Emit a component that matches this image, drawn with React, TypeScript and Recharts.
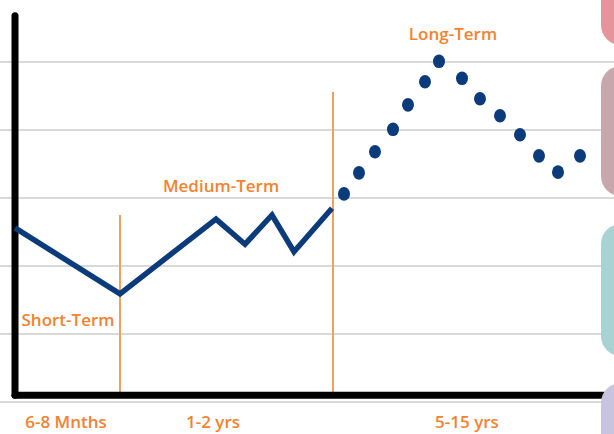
import { ComposedChart, Line, XAxis, YAxis, ReferenceLine, ReferenceDot } from 'recharts';

// x is elapsed time in chart units, y is relative level (gridlines sit on whole numbers)
const shortMediumX = [1.5, 12.0, 21.6, 24.5, 27.2, 29.4, 33.2];
const shortMediumY = [2.56, 1.59, 2.69, 2.32, 2.75, 2.21, 2.85];

const longX = [34.4, 35.9, 37.5, 39.3, 40.8, 42.5, 43.9, 46.2, 48.0, 50.0, 52.0, 53.9, 55.8, 58.0];
const longY = [3.06, 3.37, 3.68, 4.01, 4.37, 4.71, 5.01, 4.76, 4.46, 4.21, 3.93, 3.62, 3.38, 3.62];

const periodTicks = [6.6, 21.3, 46.7];
const periodLabels = ['6-8 Mnths', '1-2 yrs', '5-15 yrs'];

const phaseNames = ['Short-Term', 'Medium-Term', 'Long-Term'];
const phaseLabelX = [6.8, 22.1, 45.3];
const phaseLabelY = [1.21, 3.18, 5.41];

const dividerX = [12.0, 33.3];
const dividerTop = [2.75, 4.56];

const gridTicks = [0, 1, 2, 3, 4, 5];

const NAVY = '#0b3b7a';
const ORANGE = '#f2822f';
const FONT = '"Comic Sans MS", "Open Sans", sans-serif';

const solidData = shortMediumX.map((x, i) => ({ x, y: shortMediumY[i] }));
const dotData = longX.map((x, i) => ({ x, y: longY[i] }));

const EllipseDot = (props: any) => {
  const { cx, cy } = props;
  if (cx == null || cy == null) return null;
  return <ellipse key={`d-${cx}`} cx={cx} cy={cy} rx={6} ry={6.8} fill={NAVY} />;
};

const PeriodTick = (props: any) => {
  const { x, payload } = props;
  const idx = periodTicks.indexOf(payload.value);
  return (
    <text x={x} y={421} textAnchor="middle" dominantBaseline="central" fill={ORANGE} fontSize={17} fontWeight={600} fontFamily={FONT}>
      {periodLabels[idx]}
    </text>
  );
};

const sideBlocks = [
  { top: -25, height: 70, color: '#e4949a' },
  { top: 66, height: 130, color: '#c7a7ab' },
  { top: 224, height: 132, color: '#a8d3d2' },
  { top: 383, height: 80, color: '#c8c4df' },
];

export default function App() {
  const axisBase = 0.1;
  return (
    <div style={{ position: 'fixed', left: 0, top: 0, width: 614, height: 434, overflow: 'hidden', background: '#fff' }}>
      <ComposedChart width={614} height={434} margin={{ top: 11, right: 0, bottom: 0, left: 0 }}>
        <XAxis
          type="number"
          dataKey="x"
          domain={[0, 61.4]}
          ticks={periodTicks}
          axisLine={false}
          tickLine={false}
          height={32}
          tick={<PeriodTick />}
          allowDataOverflow
        />
        <YAxis hide type="number" domain={[0, 5.75]} ticks={gridTicks} allowDataOverflow />

        {gridTicks.map((v) => (
          <ReferenceLine key={`g-${v}`} y={v} stroke="#cdcdcd" strokeWidth={1.5} ifOverflow="visible" />
        ))}

        {dividerX.map((x, i) => (
          <ReferenceLine
            key={`div-${i}`}
            segment={[{ x, y: axisBase }, { x, y: dividerTop[i] }]}
            stroke="#f4a05c"
            strokeWidth={2}
            ifOverflow="visible"
          />
        ))}

        <ReferenceLine
          segment={[{ x: 1.5, y: axisBase }, { x: 1.5, y: 5.68 }]}
          stroke="#000"
          strokeWidth={7}
          strokeLinecap="round"
          ifOverflow="visible"
        />
        <ReferenceLine
          segment={[{ x: 1.5, y: axisBase }, { x: 60.4, y: axisBase }]}
          stroke="#000"
          strokeWidth={7}
          strokeLinecap="round"
          ifOverflow="visible"
        />

        <Line
          data={solidData}
          dataKey="y"
          type="linear"
          stroke={NAVY}
          strokeWidth={5.5}
          strokeLinejoin="miter"
          dot={false}
          activeDot={false}
          isAnimationActive={false}
        />
        <Line
          data={dotData}
          dataKey="y"
          type="linear"
          stroke="none"
          dot={<EllipseDot />}
          activeDot={false}
          isAnimationActive={false}
        />

        {phaseNames.map((name, i) => (
          <ReferenceDot
            key={name}
            x={phaseLabelX[i]}
            y={phaseLabelY[i]}
            r={0}
            stroke="none"
            ifOverflow="visible"
            label={{ value: name, position: 'center', fill: ORANGE, fontSize: 17, fontWeight: 600, fontFamily: FONT }}
          />
        ))}
      </ComposedChart>
      {sideBlocks.map((b, i) => (
        <div
          key={i}
          style={{
            position: 'absolute',
            left: 601,
            top: b.top,
            width: 40,
            height: b.height,
            borderRadius: 20,
            background: b.color,
          }}
        />
      ))}
    </div>
  );
}
